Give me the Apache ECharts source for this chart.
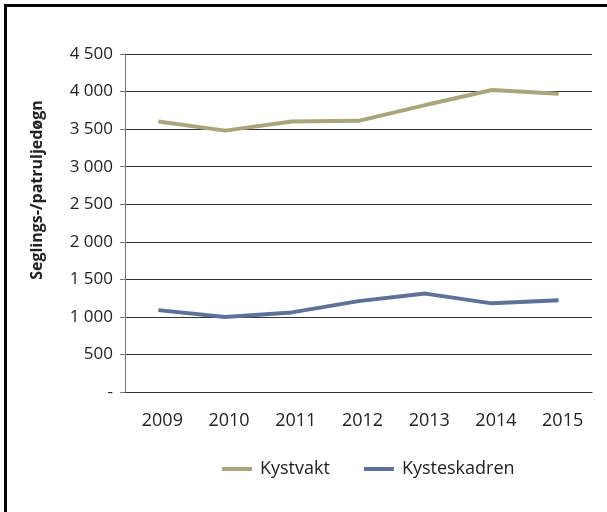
<!DOCTYPE html>
<html>
<head>
<meta charset="utf-8">
<script src="https://cdn.jsdelivr.net/npm/echarts@6/dist/echarts.min.js"></script>
<style>
    html, body { margin: 0; padding: 0; background: #fff; }
    #frame {
        position: absolute; left: 4px; top: 4px; width: 603px; height: 508px;
        border-left: 3px solid #000; border-top: 3px solid #000; box-sizing: border-box;
    }
    #chart { position: absolute; left: 0; top: 0; width: 607px; height: 512px; }
</style>
</head>
<body>
<div id="frame"></div>
<div id="chart"></div>
<script>
// 数据
const years = ['2009', '2010', '2011', '2012', '2013', '2014', '2015']
const kystvakt = [3600, 3480, 3600, 3610, 3820, 4020, 3970]
const kysteskadren = [1090, 1000, 1060, 1210, 1310, 1180, 1220]
const yTicks = [0, 500, 1000, 1500, 2000, 2500, 3000, 3500, 4000, 4500]
const yTitle = 'Seglings-/patruljedøgn'

const FONT = '"Open Sans", "Noto Sans", sans-serif'

/**
 * @description 千位用空格分隔，0 显示为 "-"
 */
const fmt = (v) => {
    if (v === 0) return '-'
    return String(v).replace(/\B(?=(\d{3})+(?!\d))/g, ' ')
}

const myChart = echarts.init(document.getElementById('chart'))
const option = {
    animation: false,
    grid: { left: 125, right: 15, top: 54, bottom: 120 },
    graphic: [{
        type: 'text',
        x: 37, y: 190,
        rotation: Math.PI / 2,
        style: {
            text: yTitle,
            font: `bold 16px ${FONT}`,
            fill: '#222',
            align: 'center',
            verticalAlign: 'middle',
        },
    }],
    legend: {
        left: 217, top: 455,
        itemWidth: 30, itemHeight: 4, itemGap: 34,
        icon: 'rect',
        textStyle: { fontFamily: FONT, fontSize: 18, color: '#222', padding: [0, 0, 0, 3] },
        data: ['Kystvakt', 'Kysteskadren'],
    },
    xAxis: {
        type: 'category',
        data: years,
        boundaryGap: true,
        axisLine: { lineStyle: { color: '#333', width: 1 } },
        axisTick: { show: false },
        axisLabel: { fontFamily: FONT, fontSize: 18, color: '#222', margin: 20, padding: [0, 0, 0, 8] },
    },
    yAxis: {
        type: 'value',
        min: yTicks[0], max: yTicks[yTicks.length - 1], interval: 500,
        axisLine: { show: true, lineStyle: { color: '#777', width: 1 } },
        axisTick: { show: true, length: 5, lineStyle: { color: '#777' } },
        axisLabel: { fontFamily: FONT, fontSize: 17, color: '#222', margin: 12, formatter: fmt },
        splitLine: { lineStyle: { color: '#333', width: 1 } },
    },
    series: [
        {
            name: 'Kystvakt', type: 'line', data: kystvakt,
            symbol: 'none', lineStyle: { color: '#A8A67A', width: 4 },
            itemStyle: { color: '#A8A67A' },
        },
        {
            name: 'Kysteskadren', type: 'line', data: kysteskadren,
            symbol: 'none', lineStyle: { color: '#5E7198', width: 4 },
            itemStyle: { color: '#5E7198' },
        },
    ],
}
myChart.setOption(option)
</script>
</body>
</html>
